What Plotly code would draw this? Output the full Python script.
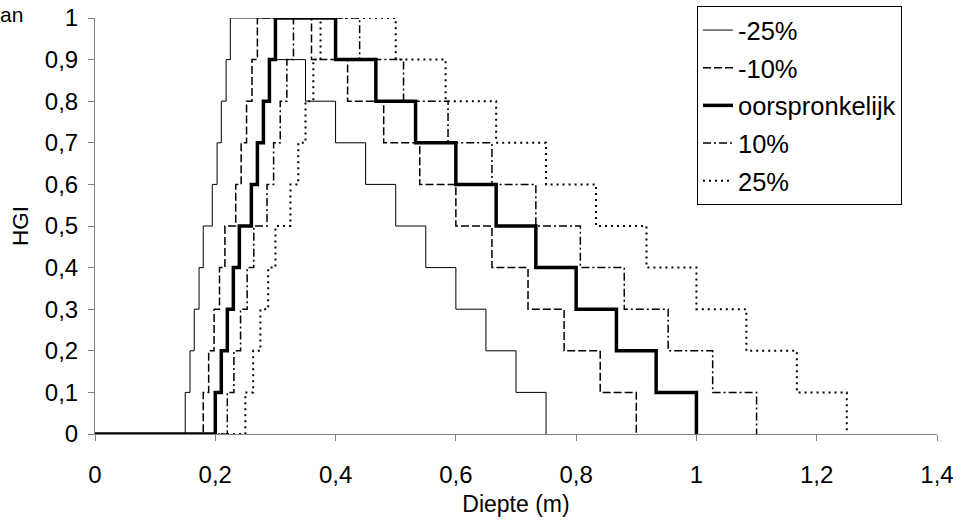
import plotly.graph_objects as go

# HGI levels along each step curve: rising 0 -> 1, then falling back to 0
hgi = [0.0, 0.1, 0.2, 0.3, 0.4, 0.5, 0.6, 0.7, 0.8, 0.9, 1.0,
       0.9, 0.8, 0.7, 0.6, 0.5, 0.4, 0.3, 0.2, 0.1, 0.0]

# Depth (m) at which each level is reached, per scenario
depth_min25 = [0.0, 0.15, 0.158, 0.165, 0.173, 0.18, 0.195, 0.203, 0.21, 0.218, 0.225,
               0.30, 0.35, 0.40, 0.45, 0.50, 0.55, 0.60, 0.65, 0.70, 0.75]
depth_min10 = [0.0, 0.18, 0.189, 0.198, 0.207, 0.216, 0.234, 0.243, 0.252, 0.261, 0.27,
               0.36, 0.42, 0.48, 0.54, 0.60, 0.66, 0.72, 0.78, 0.84, 0.90]
depth_orig = [0.0, 0.20, 0.21, 0.22, 0.23, 0.24, 0.26, 0.27, 0.28, 0.29, 0.30,
              0.40, 0.467, 0.533, 0.60, 0.667, 0.733, 0.80, 0.867, 0.933, 1.00]
depth_plus10 = [0.0, 0.22, 0.231, 0.242, 0.253, 0.264, 0.286, 0.297, 0.308, 0.319, 0.33,
                0.44, 0.513, 0.587, 0.66, 0.733, 0.807, 0.88, 0.953, 1.027, 1.10]
depth_plus25 = [0.0, 0.25, 0.263, 0.275, 0.288, 0.30, 0.325, 0.338, 0.35, 0.363, 0.375,
                0.50, 0.583, 0.667, 0.75, 0.833, 0.917, 1.00, 1.083, 1.167, 1.25]

series_names = ["-25%", "-10%", "oorspronkelijk", "10%", "25%"]

x_tickvals = [0, 0.2, 0.4, 0.6, 0.8, 1.0, 1.2, 1.4]
x_ticktext = ["0", "0,2", "0,4", "0,6", "0,8", "1", "1,2", "1,4"]
y_tickvals = [0, 0.1, 0.2, 0.3, 0.4, 0.5, 0.6, 0.7, 0.8, 0.9, 1.0]
y_ticktext = ["0", "0,1", "0,2", "0,3", "0,4", "0,5", "0,6", "0,7", "0,8", "0,9", "1"]

styles = [
    dict(width=1, dash="solid"),
    dict(width=1.5, dash="8px,3px"),
    dict(width=3.5, dash="solid"),
    dict(width=1.5, dash="8px,3px,2px,3px"),
    dict(width=2, dash="2px,4px"),
]

FONT = "Liberation Sans, Arial, sans-serif"
W, H = 967, 522

fig = go.Figure()
for name, xs, st in zip(series_names,
                        [depth_min25, depth_min10, depth_orig, depth_plus10, depth_plus25],
                        styles):
    fig.add_trace(go.Scatter(
        x=xs, y=hgi, name=name, mode="lines", legendgroup=name,
        line=dict(color="black", shape="hv", width=st["width"], dash=st["dash"]),
        cliponaxis=False,
    ))

axis_common = dict(
    showgrid=False, zeroline=False, showline=True, linecolor="#808080", linewidth=1,
    ticks="outside", ticklen=6, tickcolor="#808080", tickwidth=1,
    tickfont=dict(family=FONT, size=24, color="black"), layer="below traces",
    automargin=False,
)

fig.update_layout(
    width=W, height=H,
    margin=dict(l=95, r=30, t=18, b=88, autoexpand=False),
    paper_bgcolor="white", plot_bgcolor="white",
    font=dict(family=FONT, size=23, color="black"),
    xaxis=dict(range=[0, 1.4], tickvals=x_tickvals, ticktext=x_ticktext,
               ticklabelstandoff=13,
               title=dict(text="Diepte (m)", font=dict(family=FONT, size=23), standoff=9),
               **axis_common),
    yaxis=dict(range=[0, 1], tickvals=y_tickvals, ticktext=y_ticktext,
               ticklabelstandoff=5,
               title=dict(text="HGI", font=dict(family=FONT, size=22.5), standoff=9),
               **axis_common),
    legend=dict(xref="container", yref="container",
                x=697 / W, y=1 - 6 / H, xanchor="left", yanchor="top",
                bordercolor="black", borderwidth=1, bgcolor="white",
                font=dict(family=FONT, size=25.5), tracegroupgap=1.5,
                traceorder="grouped"),
    showlegend=True,
)

fig.add_annotation(text="an", xref="paper", yref="paper", x=-97 / 842, y=(434 - 15) / 416,
                   xanchor="left", yanchor="middle", showarrow=False,
                   font=dict(family=FONT, size=21, color="black"))

fig.write_html("out.html")
